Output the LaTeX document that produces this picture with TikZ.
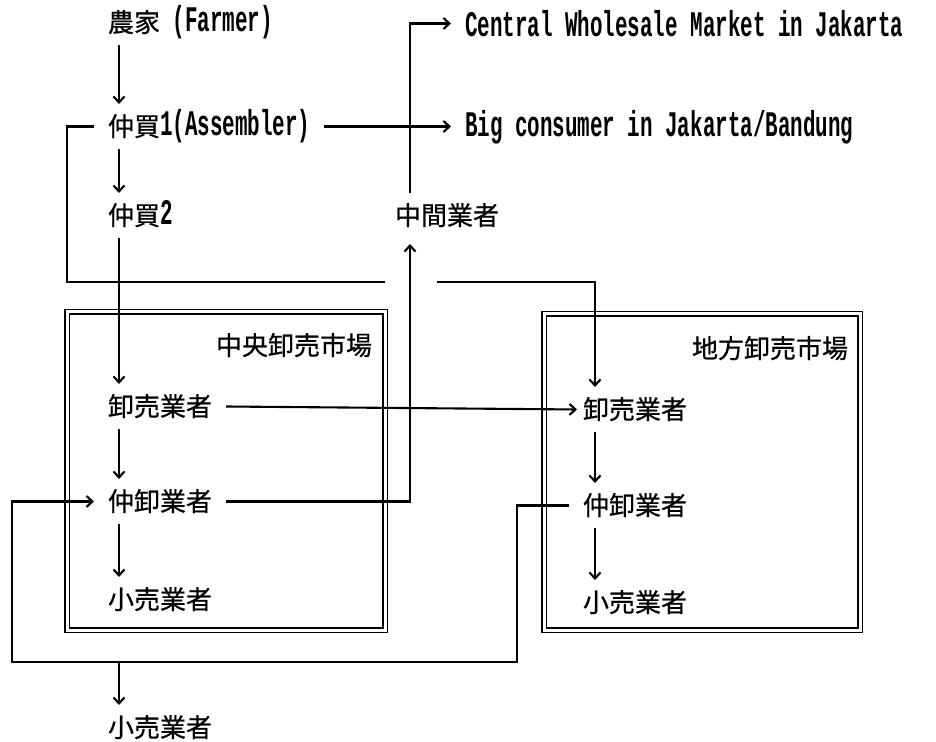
\documentclass[tikz,border=0pt]{standalone}
\usepackage{fontspec}
\newfontfamily\cjk[FakeBold=0.6]{Noto Sans CJK JP}
\newfontfamily\lat[FakeStretch=0.58]{Liberation Mono}
\newcommand\lx[1]{{\lat\bfseries\fontsize{18pt}{20pt}\selectfont #1}}
\usetikzlibrary{arrows.meta}
\begin{document}
\begin{tikzpicture}[x=0.5pt,y=-0.5pt,
  txt/.style={inner sep=0pt, outer xsep=7pt, outer ysep=5pt, text height=11pt, text depth=1.5pt,
    font=\cjk\fontsize{13pt}{15pt}\selectfont, anchor=base west},
  ln/.style={line width=1.05pt},
  arr/.style={ln, -{Straight Barb[length=3pt,width=5.5pt]}},
  mkt/.style={draw, double, line width=0.7pt, double distance=1.5pt, inner sep=0pt}]
\useasboundingbox (0,0) rectangle (936,742);
% market frames
\node[mkt, minimum width=159pt, minimum height=159pt] (cbox) at (226,471) {};
\node[mkt, minimum width=158pt, minimum height=158pt] (rbox) at (702,472) {};
% texts
\node[txt] (farmer) at (94,32) {農家\lx{\ (Farmer)}};
\node[txt] (asm) at (94,136) {仲買\lx{1(Assembler)}};
\node[txt] (cwm) at (451,37) {\lx{Central Wholesale Market in Jakarta}};
\node[txt] (big) at (451,137) {\lx{Big consumer in Jakarta/Bandung}};
\node[txt] (asm2) at (94,225) {仲買\lx{2}};
\node[txt] (mid) at (381,225) {中間業者};
\node[txt, anchor=base east] (clabel) at (386,355) {中央卸売市場};
\node[txt, anchor=base east] (rlabel) at (862,358) {地方卸売市場};
\node[txt] (cw) at (94,416) {卸売業者};
\node[txt] (cm) at (94,511) {仲卸業者};
\node[txt] (cr) at (94,609) {小売業者};
\node[txt] (rw) at (569,419) {卸売業者};
\node[txt] (rm) at (569,515) {仲卸業者};
\node[txt] (rr) at (569,612) {小売業者};
\node[txt] (br) at (94,737) {小売業者};
% helper coordinates
\coordinate (colL) at (119,0);
\coordinate (colM) at (410,0);
\coordinate (colR) at (595,0);
\coordinate (lx) at (12,0);
\coordinate (ly) at (0,662);
\coordinate (rx) at (517,0);
\coordinate (ax) at (67,0);
\coordinate (ay) at (0,282);
\coordinate (g1) at (385,282);
\coordinate (g2) at (437,282);
% vertical flows
\draw[arr] (farmer.south -| colL) -- (asm.north -| colL);
\draw[arr] (asm.south -| colL) -- (asm2.north -| colL);
\draw[arr] (asm2.south -| colL) -- (cw.north -| colL);
\draw[arr] (cw.south -| colL) -- (cm.north -| colL);
\draw[arr] (cm.south -| colL) -- (cr.north -| colL);
\draw[arr] (rw.south -| colR) -- (rm.north -| colR);
\draw[arr] (rm.south -| colR) -- (rr.north -| colR);
% assembler to big consumer
\draw[arr] (asm.east) -- (asm.east -| big.west);
% middleman to central wholesale market
\draw[arr] (mid.north -| colM) -- ([yshift=2pt]colM |- cwm.west) -- ([yshift=2pt]cwm.west);
% central intermediate wholesaler to middleman
\draw[arr] (cm.east) -- (cm.east -| colM) -- ([yshift=-3pt]mid.south -| colM);
% wholesaler to regional wholesaler
\draw[arr] (cw.east) -- ([xshift=4pt]rw.west);
% assembler to regional wholesaler
\draw[ln] (asm.west) -- (asm.west -| ax) -- (ax |- ay) -- (g1);
\draw[arr] (g2) -- (colR |- ay) -- (rw.north -| colR);
% regional intermediate wholesaler loop
\draw[arr] (rm.west) -- (rm.west -| rx) -- (rx |- ly) -- (lx |- ly) -- (lx |- cm.west) -- (cm.west);
\draw[arr] (colL |- ly) -- (br.north -| colL);
\end{tikzpicture}
\end{document}
